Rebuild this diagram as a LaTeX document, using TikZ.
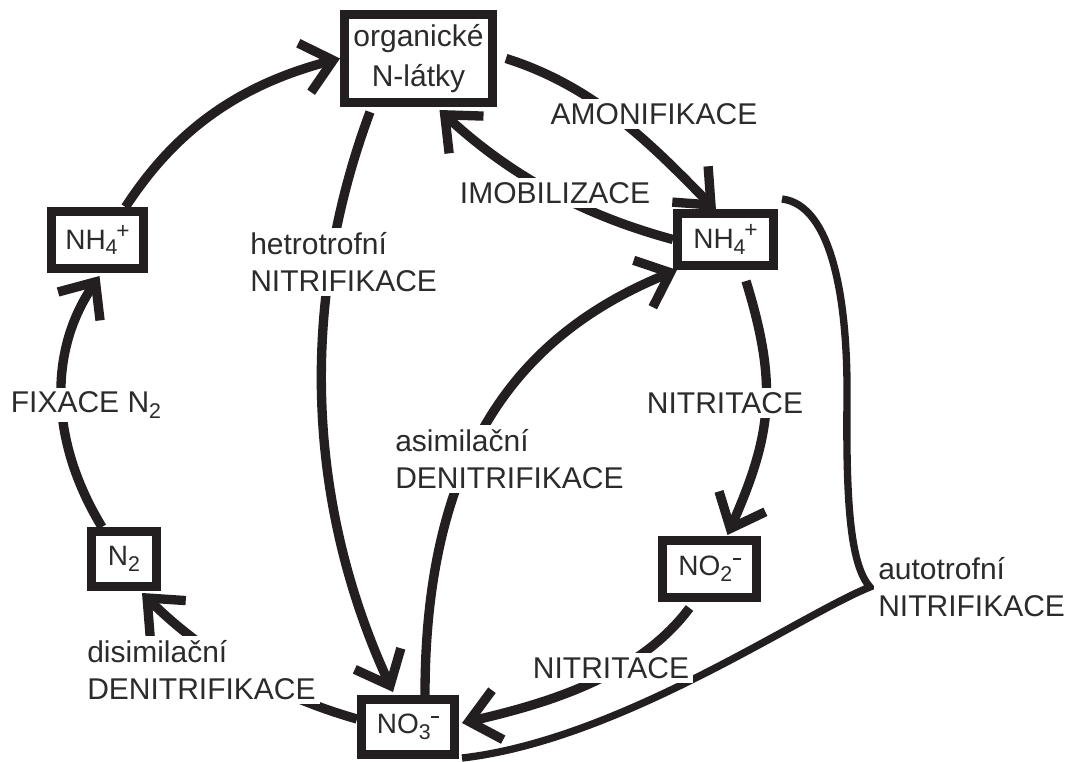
\documentclass[tikz,border=0pt]{standalone}
\usepackage{fontspec}
\setmainfont{Liberation Sans}
\usetikzlibrary{arrows.meta,calc}
\definecolor{ink}{HTML}{231F20}
\definecolor{txt}{HTML}{2B2B2B}
\newcommand\lblfont{\fontsize{22.5pt}{27.75pt}\selectfont}
\newcommand\orgfont{\fontsize{22.5pt}{30pt}\selectfont}
\newcommand\bxfont{\fontsize{21pt}{25pt}\selectfont}
\newcommand\subsc[1]{\raisebox{-0.38ex}{\fontsize{16pt}{16pt}\selectfont #1}}
\newcommand\supsc[1]{\raisebox{0.72ex}{\fontsize{17pt}{17pt}\selectfont #1}}
\newcommand\minussup{\raisebox{1.05ex}{\rule{0.28em}{0.09em}}}
\begin{document}
\begin{tikzpicture}[x=0.75pt,y=-0.75pt,
  box/.style={draw=ink, line width=6.75pt, fill=white, inner sep=0pt, text=txt, font=\bxfont, align=center},
  conn/.style={draw=ink, line width=7pt},
  arr/.style={conn, -{Straight Barb[length=22pt,width=38pt]}},
  lab/.style={fill=white, text=txt, font=\lblfont, inner sep=3pt, align=left}]
\useasboundingbox (0,0) rectangle (1068,762);
\fill[white] (0,0) rectangle (1068,762);

% boxes
\node[box, font=\orgfont, minimum width=111pt, minimum height=66pt] (org) at (418.5,58.5) {organické\\N-látky};
\node[box, minimum width=72pt, minimum height=39pt] (nhR) at (725.5,239.5) {NH\subsc{4}\kern-0.04em\supsc{+}};
\node[box, minimum width=69pt, minimum height=42.75pt] (nhL) at (97.5,240) {NH\subsc{4}\kern-0.04em\supsc{+}};
\node[box, minimum width=48.75pt, minimum height=41.25pt] (N2) at (124,559) {N\subsc{2}};
\node[box, minimum width=70.5pt, minimum height=42.75pt] (NO2) at (709.5,569) {NO\subsc{2}\kern0.02em\minussup};
\node[box, minimum width=69.75pt, minimum height=41.25pt] (NO3) at (408,727) {NO\subsc{3}\kern0.02em\minussup};

% connectors
\draw[arr] ($(nhL.north)+(28,0)$) .. controls (171,137) and (231,87) .. (org.west);
\draw[arr] ($(N2.north)+(-22,0)$) .. controls (52,445) and (46,355) .. ($(nhL.south)+(2,3)$);
\draw[arr] ($(NO3.west)+(0,-8)$) .. controls (290,700) and (215,665) .. ($(N2.south)+(18,2)$);
\draw[arr] ($(org.east)+(9,0)$) .. controls (600,88) and (659,153) .. ($(nhR.north west)+(43,1)$);
\draw[arr] (nhR.west) .. controls (582,215) and (510,175) .. ($(org.south)+(21,3)$);
\draw[arr] ($(org.south)+(-48.5,5)$) .. controls (300,300) and (305,500) .. ($(NO3.north)+(-15,-3)$);
\draw[arr] ($(NO3.north)+(17,0)$) .. controls (425,440) and (530,330) .. ($(nhR.south west)+(4,0)$);
\draw[arr] ($(nhR.south)+(20.5,11)$) .. controls (778,385) and (772,434) .. ($(NO2.north)+(18,-1)$);
\draw[arr] ($(NO2.south)+(-20,6)$) .. controls (641.5,672) and (559,701) .. ($(NO3.east)+(3,-4)$);
\draw[conn, line width=5.5pt] ($(nhR.north east)+(4,-10)$) .. controls (832,205) and (848,300) .. (847,400)
   .. controls (846,500) and (850,565) .. (870,587)
   .. controls (800,615) and (620,740) .. ($(NO3.south east)+(3,-1)$);

% labels
\node[lab] (lAmon) at (654,114) {AMONIFIKACE};
\node[lab] (lImob) at (555,193) {IMOBILIZACE};
\node[lab, anchor=west] (lHet) at (246,262) {hetrotrofní\\NITRIFIKACE};
\node[lab, anchor=west] (lAsim) at (391,459) {asimilační\\DENITRIFIKACE};
\node[lab, anchor=west] (lDis) at (83,670) {disimilační\\DENITRIFIKACE};
\node[lab, anchor=west] (lAuto) at (874,587) {autotrofní\\NITRIFIKACE};
\node[lab] (lFix) at (86,405) {FIXACE N\subsc{2}};
\node[lab] (lNit1) at (725,403) {NITRITACE};
\node[lab] (lNit2) at (611,668) {NITRITACE};
\end{tikzpicture}
\end{document}
